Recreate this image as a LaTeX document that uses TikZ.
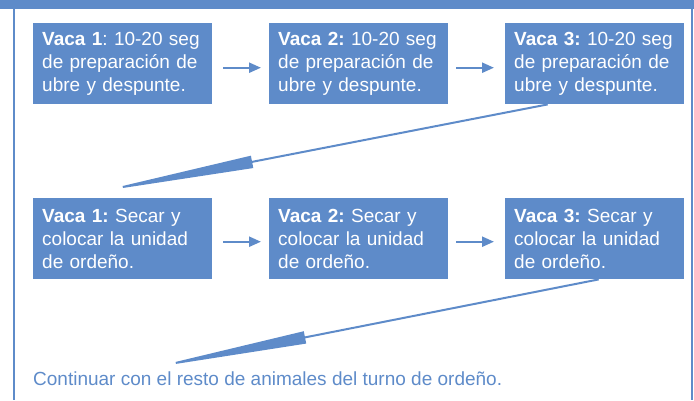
\documentclass[tikz,border=0pt]{standalone}
\usepackage{fontspec}
\setmainfont{Liberation Sans}
\usetikzlibrary{arrows.meta}
\definecolor{vblue}{RGB}{94,139,201}
\begin{document}
\begin{tikzpicture}[x=1pt,y=-1pt,line join=round,>={Triangle[length=12pt,width=10pt]}]
	\tikzset{every node/.style={font=\fontsize{19}{23}\selectfont\frenchspacing},
		paso/.style={fill=vblue,text=white,anchor=north west,text width=161pt,inner xsep=9pt,inner ysep=0pt,minimum height=81pt,align=left},
		corto/.style={vblue,line width=2.3pt,->},
		largo/.style={vblue,line width=2pt,-{Triangle[length=158pt,width=12pt]}}}
	\useasboundingbox (0,0) rectangle (694,400);
	\fill[vblue] (0,0) rectangle (694,9);
	\draw[vblue,line width=2pt] (14,9)--(14,400) (692,9)--(692,400);
	\node[paso] (prep1) at (33,23) {\textbf{Vaca 1}: 10-20 seg\\de preparación de\\ubre y despunte.};
	\node[paso] (prep2) at (269,23) {\textbf{Vaca 2:} 10-20 seg\\de preparación de\\ubre y despunte.};
	\node[paso] (prep3) at (505,23) {\textbf{Vaca 3:} 10-20 seg\\de preparación de\\ubre y despunte.};
	\node[paso] (sec1) at (33,198) {\textbf{Vaca 1:} Secar y\\colocar la unidad\\de ordeño.};
	\node[paso] (sec2) at (269,198) {\textbf{Vaca 2:} Secar y\\colocar la unidad\\de ordeño.};
	\node[paso] (sec3) at (505,198) {\textbf{Vaca 3:} Secar y\\colocar la unidad\\de ordeño.};
	\node[anchor=base west,text=vblue,inner sep=0pt] (resto) at (33,385) {Continuar con el resto de animales del turno de ordeño.};
	\coordinate (fin1) at (97,192);
	\coordinate (fin2) at (150,368);
	\draw[corto,shorten <=11pt,shorten >=8pt] ([yshift=-4pt]prep1.east)--([yshift=-4pt]prep2.west);
	\draw[corto,shorten <=8pt,shorten >=11pt] ([yshift=-4pt]prep2.east)--([yshift=-4pt]prep3.west);
	\draw[corto,shorten <=11pt,shorten >=8pt] ([yshift=-3pt]sec1.east)--([yshift=-3pt]sec2.west);
	\draw[corto,shorten <=8pt,shorten >=11pt] ([yshift=-3pt]sec2.east)--([yshift=-3pt]sec3.west);
	\draw[largo] ([xshift=-47pt]prep3.south)--(fin1);
	\draw[largo] ([xshift=4pt]sec3.south)--(fin2);
\end{tikzpicture}
\end{document}
